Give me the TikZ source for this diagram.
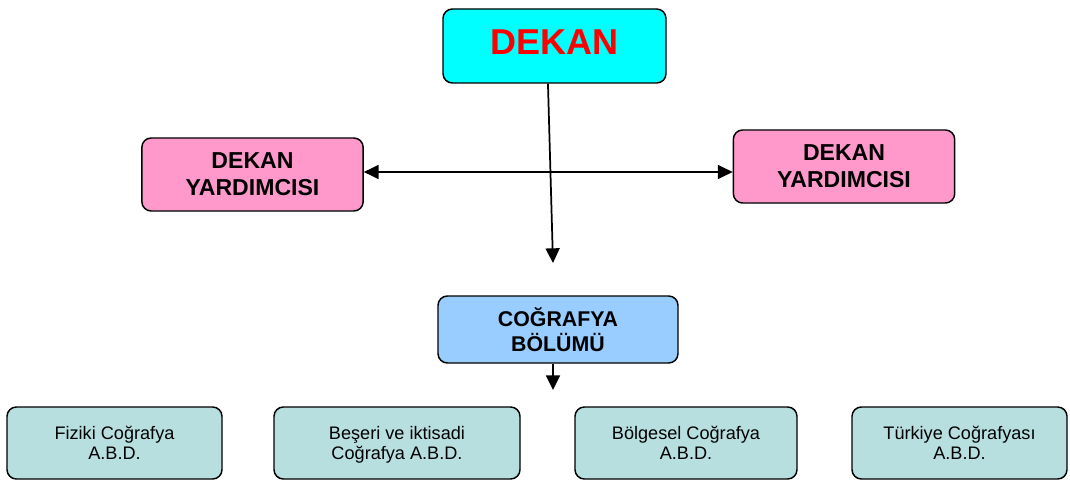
\documentclass[tikz,border=0pt]{standalone}
\usepackage{fontspec}
\setmainfont{Liberation Sans}
\usetikzlibrary{arrows.meta}
\definecolor{dekancol}{HTML}{00FFFF}
\definecolor{pinkcol}{HTML}{FF99CC}
\definecolor{bluecol}{HTML}{99CCFF}
\definecolor{tealcol}{HTML}{B8DFE0}
\tikzset{
  box/.style={draw=black, line width=1.1pt, rounded corners=7pt, align=center, inner sep=0pt},
  dekanbox/.style={box, fill=dekancol, text=red, font=\fontsize{27}{30}\selectfont\bfseries, text depth=6pt},
  vicebox/.style={box, fill=pinkcol, font=\fontsize{17.3}{20.5}\selectfont\bfseries,
    minimum width=166pt, minimum height=54.75pt},
  deptbox/.style={box, fill=bluecol, font=\fontsize{16}{18.75}\selectfont\bfseries},
  abdbox/.style={box, fill=tealcol, font=\fontsize{13.6}{15}\selectfont, minimum height=54pt, text depth=0pt},
  conn/.style={line width=1.3pt, -{Triangle[length=11pt,width=10.5pt]}},
  bconn/.style={line width=1.3pt, {Triangle[length=11pt,width=10.5pt]}-{Triangle[length=11pt,width=10.5pt]}}
}
\begin{document}
\begin{tikzpicture}[x=0.75pt,y=-0.75pt]
\useasboundingbox (0,0) rectangle (1070,481);
\node[dekanbox, minimum width=167.25pt, minimum height=55.5pt] (dekan) at (554.5,46) {DEKAN};
\node[vicebox] (vl) at (252.5,174.5) {DEKAN\\YARDIMCISI};
\node[vicebox] (vr) at (844,166.5) {DEKAN\\YARDIMCISI};
\node[deptbox, minimum width=180pt, minimum height=50.25pt] (bolum) at (558,329.5) {COĞRAFYA\\BÖLÜMÜ};
\node[abdbox, minimum width=161.25pt] (a1) at (114.5,443) {Fiziki Coğrafya\\A.B.D.};
\node[abdbox, minimum width=184.5pt] (a2) at (397,443) {Beşeri ve iktisadi\\Coğrafya A.B.D.};
\node[abdbox, minimum width=166.5pt] (a3) at (686,443) {Bölgesel Coğrafya\\A.B.D.};
\node[abdbox, minimum width=161.25pt] (a4) at (959.5,443) {Türkiye Coğrafyası\\A.B.D.};
\coordinate (hline) at (0,172);
\coordinate (dend) at (553,263);
\coordinate (bend) at (553,390);
\draw[bconn] (vl.east |- hline) -- (vr.west |- hline);
\draw[conn] ([xshift=-4.9pt]dekan.south) -- (dend);
\draw[conn] ([xshift=-3.75pt]bolum.south) -- (bend);
\end{tikzpicture}
\end{document}
